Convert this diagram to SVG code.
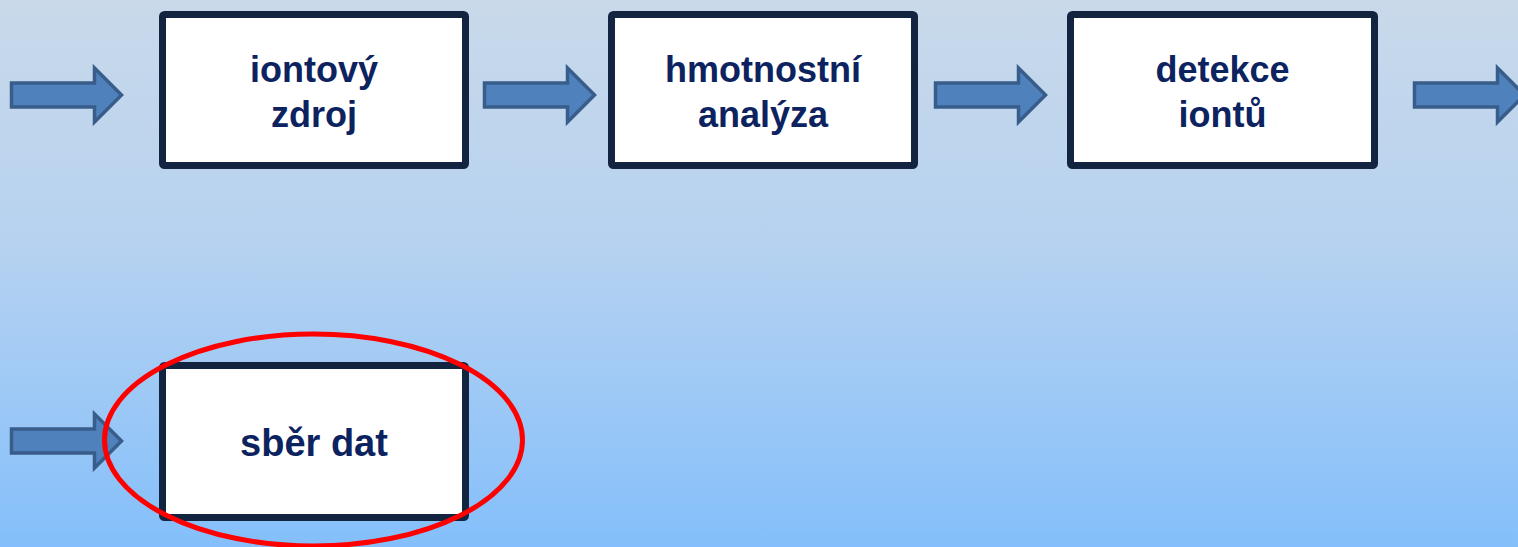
<svg xmlns="http://www.w3.org/2000/svg" width="1518" height="547" viewBox="0 0 1518 547">
  <defs>
    <linearGradient id="bg" x1="0" y1="0" x2="0" y2="1">
      <stop offset="0" stop-color="#C9D9EA"/>
      <stop offset="0.45" stop-color="#B6D2F0"/>
      <stop offset="1" stop-color="#84BFFB"/>
    </linearGradient>
    <!-- block arrow, tip at x=110, centred on y=0 -->
    <path id="blockArrow" d="M0,-12 H83 V-27 L110,0 L83,27 V12 H0 Z"/>
    <style>
      .box { fill: #FFFFFF; stroke: #12243F; stroke-width: 7; }
      .label { font-family: "Liberation Sans", Arial, sans-serif; font-weight: bold; font-size: 36px; fill: #0C2360; text-anchor: middle; }
      .label.large { font-size: 38px; }
      .arrow { fill: #4F81BD; stroke: #385D8A; stroke-width: 3.5; stroke-linejoin: miter; }
      .highlight { fill: none; stroke: #FF0000; stroke-width: 5; }
    </style>
  </defs>

  <rect x="0" y="0" width="1518" height="547" fill="url(#bg)"/>

  <g id="connectors">
    <use href="#blockArrow" class="arrow" transform="translate(11.5,95)"/>
    <use href="#blockArrow" class="arrow" transform="translate(484.5,95)"/>
    <use href="#blockArrow" class="arrow" transform="translate(935.5,95)"/>
    <use href="#blockArrow" class="arrow" transform="translate(1414.5,95)"/>
    <use href="#blockArrow" class="arrow" transform="translate(11.5,441)"/>
  </g>

  <g id="node-iontovy-zdroj">
    <rect class="box" x="162.5" y="14.5" width="303" height="151" rx="2"/>
    <text class="label" x="314" y="82">iontový</text>
    <text class="label" x="314" y="127">zdroj</text>
  </g>

  <g id="node-hmotnostni-analyza">
    <rect class="box" x="611.5" y="14.5" width="303" height="151" rx="2"/>
    <text class="label" x="763" y="82">hmotnostní</text>
    <text class="label" x="763" y="127">analýza</text>
  </g>

  <g id="node-detekce-iontu">
    <rect class="box" x="1070.5" y="14.5" width="304" height="151" rx="2"/>
    <text class="label" x="1222.5" y="82">detekce</text>
    <text class="label" x="1222.5" y="127">iontů</text>
  </g>

  <g id="node-sber-dat">
    <rect class="box" x="162.5" y="365.5" width="303" height="152" rx="2"/>
    <text class="label large" x="314" y="456">sběr dat</text>
  </g>

  <ellipse id="highlight" class="highlight" cx="313.5" cy="440" rx="209" ry="106"/>
</svg>
